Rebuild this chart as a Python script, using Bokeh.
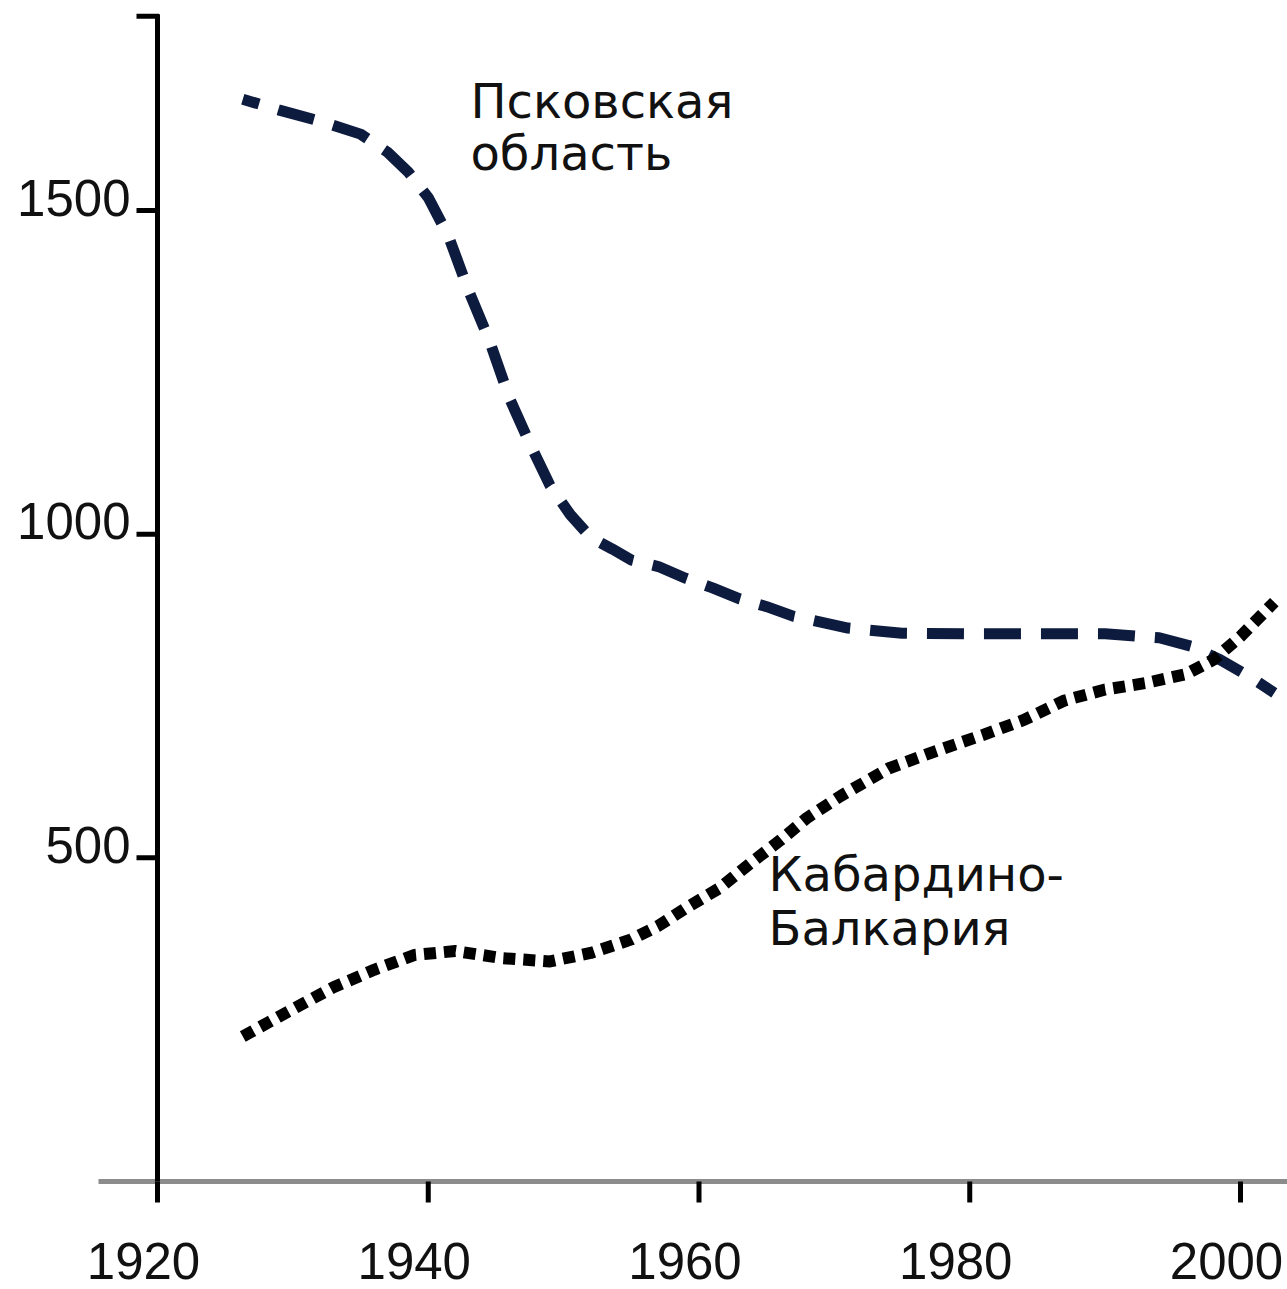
from bokeh.plotting import figure
from bokeh.models import Range1d
from bokeh.embed import file_html
from bokeh.resources import INLINE
from bokeh.core.properties import value

# ---- data ----
pskov_years = [1926.3, 1929, 1932, 1935, 1937, 1938.5, 1940, 1941.5, 1943, 1944.5, 1946, 1947.5,
               1949, 1950.5, 1952, 1953.6, 1955, 1957, 1959, 1961, 1963, 1965, 1967, 1969,
               1971, 1975, 1980, 1990, 1994, 1996.5, 1998.5, 2000.5, 2002.5]
pskov_pop = [1672, 1655, 1638, 1618, 1590, 1560, 1520, 1460, 1375, 1300, 1210, 1140,
             1075, 1030, 995, 977, 960, 950, 932, 917, 900, 888, 873, 864,
             855, 847, 846, 846, 840, 826, 806, 782, 755]

kbr_years = [1926.3, 1929, 1933, 1936, 1939, 1942, 1945.5, 1949, 1952, 1955, 1957, 1959,
             1961.5, 1964, 1966, 1968, 1970.5, 1974, 1977.5, 1981, 1984, 1987, 1990,
             1993, 1996, 1998, 2000, 2002.5]
kbr_pop = [224, 255, 300, 327, 350, 356, 345, 340, 353, 374, 395, 422,
           453, 495, 527, 562, 596, 638, 665, 690, 713, 743, 760,
           770, 784, 806, 842, 895]

x_ticks = [1920, 1940, 1960, 1980, 2000]
x_tick_labels = ["1920", "1940", "1960", "1980", "2000"]
y_ticks = [500, 1000, 1500, 1800]
y_label_ticks = [500, 1000, 1500]
y_tick_labels = ["500", "1000", "1500"]

pskov_label = ["Псковская", "область"]
kbr_label = ["Кабардино-", "Балкария"]

# ---- layout ----
W, H = 1287, 1289
PX_X = 13.5375      # px per year
PX_Y = 0.64733      # px per unit
X_ORIGIN_PX = 157   # screen x of 1920
Y_ORIGIN_PX = 1181  # screen y of 0
TXT_SHIFT = 20      # baseline correction (px)
x0 = 1920 - X_ORIGIN_PX / PX_X
x1 = 1920 + (W - X_ORIGIN_PX) / PX_X
y_top = Y_ORIGIN_PX / PX_Y
y_bot = -(H - Y_ORIGIN_PX) / PX_Y

p = figure(width=W, height=H, x_range=Range1d(x0, x1), y_range=Range1d(y_bot, y_top),
           output_backend="svg", toolbar_location=None,
           x_axis_location=None, y_axis_location=None, min_border=0)
p.grid.visible = False
p.outline_line_color = None
p.background_fill_color = "white"
p.border_fill_color = "white"

AX_X = 1920
# grey x-axis line
p.segment(x0=[1920 - 59 / PX_X], y0=[0], x1=[x1 + 1], y1=[0], line_color="#8c8c8c", line_width=5)
# black y-axis line
p.segment(x0=[AX_X], y0=[0], x1=[AX_X], y1=[1800 + 2 / PX_Y], line_color="black", line_width=5)
# x ticks
tick_len_y = 21 / PX_Y
p.segment(x0=x_ticks, y0=[0] * len(x_ticks), x1=x_ticks, y1=[-tick_len_y] * len(x_ticks),
          line_color="black", line_width=5)
# y ticks
tick_len_x = 21 / PX_X
p.segment(x0=[AX_X - tick_len_x] * len(y_ticks), y0=y_ticks, x1=[AX_X + 1.5 / PX_X] * len(y_ticks), y1=y_ticks,
          line_color="black", line_width=5)

# tick labels
p.text(x=x_ticks, y=[0] * len(x_ticks), text=x_tick_labels, x_offset=-14, y_offset=99 - TXT_SHIFT,
       text_align="center", text_baseline="alphabetic",
       text_font=value("Liberation Sans"), text_font_size="51px", text_color="#111111")
p.text(x=[AX_X] * len(y_label_ticks), y=y_label_ticks, text=y_tick_labels, x_offset=-27, y_offset=7 - TXT_SHIFT,
       text_align="right", text_baseline="alphabetic",
       text_font=value("Liberation Sans"), text_font_size="51px", text_color="#111111")

# series
p.line(pskov_years, pskov_pop, line_color="#0d1b3e", line_width=11, line_dash="37 20",
       line_dash_offset=20, line_join="round")
p.line(kbr_years, kbr_pop, line_color="black", line_width=12, line_dash="12 8", line_join="round")

# series labels
lab_x_p = 1920 + (470 - X_ORIGIN_PX) / PX_X
lab_x_k = 1920 + (768 - X_ORIGIN_PX) / PX_X
p.text(x=[lab_x_p, lab_x_p],
       y=[(Y_ORIGIN_PX - 120 + TXT_SHIFT) / PX_Y, (Y_ORIGIN_PX - 172 + TXT_SHIFT) / PX_Y], text=pskov_label,
       text_align="left", text_baseline="alphabetic",
       text_font=value("DejaVu Sans"), text_font_size="48px", text_color="#111111")
p.text(x=[lab_x_k, lab_x_k],
       y=[(Y_ORIGIN_PX - 893 + TXT_SHIFT) / PX_Y, (Y_ORIGIN_PX - 947 + TXT_SHIFT) / PX_Y], text=kbr_label,
       text_align="left", text_baseline="alphabetic",
       text_font=value("DejaVu Sans"), text_font_size="48px", text_color="#111111")

open("out.html", "w").write(file_html(p, INLINE))
